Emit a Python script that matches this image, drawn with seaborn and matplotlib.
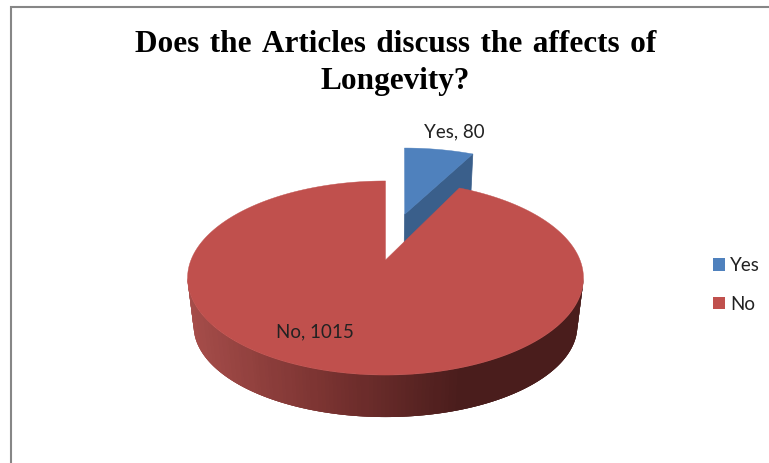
#!/usr/bin/env python3

import numpy as np
import seaborn as sns
import matplotlib.pyplot as plt
from matplotlib.patches import Patch

categories = ["Yes", "No"]
counts = [80, 1015]
title_lines = ["Does the Articles discuss the affects of", "Longevity?"]

# colours of the slices, the cut face and the rim shading
slice_colors = ["#4F81BD", "#C0504D"]
cut_color = "#3A5F8B"
rim_colors = ["#A64D4A", "#7A3331", "#4A1D1C"]

W, H = 769, 463
CX = 385.5
TILT = 0.1856  # perspective strength
TOP = (194.5, 93.7, 260)  # half width, half depth, centre y of top face
BOTTOM = (188.5, 88.0, 309)
EXPLODE = 0.55
APEX_SHIFT = -3  # inner tip of the exploded slice sits a bit further left


def project(u, v, plane):
    b, a, y0 = plane
    w = 1 - TILT * np.asarray(v)
    return CX + b * np.asarray(u) / w, y0 + a * np.asarray(v) / w


def rim(start, end, du=0.0, dv=0.0, n=80):
    # points on the circle, angles clockwise from 12 o'clock
    t = np.linspace(start, end, n)
    return np.sin(t) + du, -np.cos(t) + dv


sns.set_theme(style="white")
plt.rcParams["font.family"] = ["Lato", "DejaVu Sans"]

fig, ax = plt.subplots(figsize=(W / 100, H / 100), dpi=100)
fig.subplots_adjust(0, 0, 1, 1)
ax.set_xlim(0, W)
ax.set_ylim(H, 0)
ax.axis("off")

# chart frame, only top and left are inside the crop
ax.plot([10.5, 10.5, W], [H, 6.5, 6.5], color="#868686", lw=1.5, solid_joinstyle="miter")

sweep = 2 * np.pi * counts[0] / sum(counts)
mid = sweep / 2
du, dv = EXPLODE * np.sin(mid), -EXPLODE * np.cos(mid)

# exploded slice: cut face first, then the top
corner_u, corner_v = np.sin(sweep) + du, -np.cos(sweep) + dv
xs_top, ys_top = project([du, corner_u], [dv, corner_v], TOP)
xs_bot, ys_bot = project([du, corner_u], [dv, corner_v], BOTTOM)
xs_top[0] += APEX_SHIFT
xs_bot[0] += APEX_SHIFT
ax.fill([xs_top[0], xs_top[1], xs_bot[1], xs_bot[0]],
        [ys_top[0], ys_top[1], ys_bot[1], ys_bot[0]], color=cut_color, lw=0.5)
u, v = rim(0, sweep, du, dv)
x, y = project(np.r_[du, u], np.r_[dv, v], TOP)
x[0] += APEX_SHIFT
ax.fill(x, y, color=slice_colors[0], lw=0.3)

# shaded rim of the big slice, drawn as thin overlapping strips so no seams show
tangent = np.arcsin(TILT)
edges = np.linspace(np.pi / 2 + tangent, 3 * np.pi / 2 - tangent, 161)
shades = sns.blend_palette(rim_colors, 64)
for i in range(len(edges) - 1):
    u, v = rim(edges[i], edges[min(i + 3, len(edges) - 1)], n=4)
    xt, yt = project(u, v, TOP)
    xb, yb = project(u, v, BOTTOM)
    frac = np.clip((xt[0] - 460) / (187 - 460), 0, 1)
    c = shades[int((1 - frac) * 63)]
    ax.fill(np.r_[xt, xb[::-1]], np.r_[yt, yb[::-1]], color=c, lw=0)

# top of the big slice
u, v = rim(sweep, 2 * np.pi, n=300)
x, y = project(np.r_[0, u], np.r_[0, v], TOP)
ax.fill(x, y, color=slice_colors[1], lw=0.3)

# title
for line, ypos in zip(title_lines, [45, 82]):
    ax.text(395.5, ypos, line.replace(" ", " \u200a"), ha="center", va="center",
            fontsize=22.5, fontweight="bold", family="Liberation Serif", color="black")

# data labels
ax.text(454, 132, f"{categories[0]}, {counts[0]}", ha="center", va="center",
        fontsize=13.5, color="#222222")
ax.text(315, 332, f"{categories[1]}, {counts[1]}", ha="center", va="center",
        fontsize=13.5, color="#222222")

handles = [Patch(facecolor=c, edgecolor="none") for c in slice_colors]
ax.legend(handles, categories, loc="center left", bbox_to_anchor=(696, 285),
          bbox_transform=ax.transData, frameon=False, fontsize=13.5,
          handlelength=0.65, handleheight=0.65, handletextpad=0.25,
          labelspacing=1.15, labelcolor="#222222")

fig.savefig("out.png", dpi=100)
